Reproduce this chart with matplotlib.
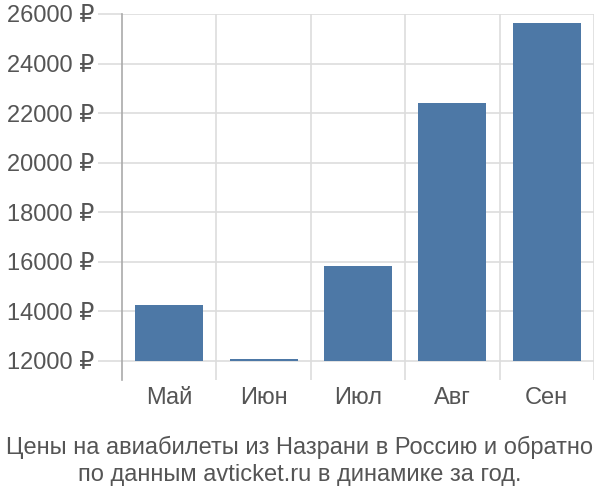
import matplotlib
matplotlib.use("Agg")
import matplotlib.pyplot as plt

months = ["Май", "Июн", "Июл", "Авг", "Сен"]
prices = [14250, 12080, 15830, 22400, 25630]
yticks = [12000, 14000, 16000, 18000, 20000, 22000, 24000, 26000]
BASE = 12000
BAR, GRID, TXT = "#4d78a6", "#dddddd", "#555555"

plt.rcParams["font.family"] = ["Liberation Sans", "DejaVu Sans"]

fig = plt.figure(figsize=(6, 5), dpi=100)
ax = fig.add_axes([0.2033, 0.24, 0.7867, 0.732])

x = list(range(len(months)))
ax.bar(x, [p - BASE for p in prices], bottom=BASE, width=0.72, color=BAR, zorder=3)

ax.set_xlim(-0.5, len(months) - 0.5)
ax.set_ylim(11230, 26000)
ax.set_yticks(yticks)
ax.set_yticklabels([f"{v} ₽" for v in yticks])
ax.set_xticks(x)
ax.set_xticklabels(months)
ax.set_xticks([i + 0.5 for i in x], minor=True)

ax.grid(axis="y", color=GRID, lw=1.2, zorder=0)
ax.grid(axis="x", which="minor", color=GRID, lw=1.2, zorder=0)
ax.tick_params(axis="y", length=17, color=GRID, width=1.2, labelsize=17, labelcolor=TXT, pad=3)
ax.tick_params(axis="x", which="major", length=0, labelsize=17, labelcolor=TXT, pad=5)
ax.tick_params(axis="x", which="minor", length=0)
for s in ["top", "right", "bottom"]:
    ax.spines[s].set_visible(False)
ax.spines["left"].set_color("#aaaaaa")
ax.spines["left"].set_linewidth(1.2)

fig.text(0.5, 0.078, "Цены на авиабилеты из Назрани в Россию и обратно\nпо данным avticket.ru в динамике за год.",
         ha="center", va="center", fontsize=17, color=TXT, linespacing=1.3)

fig.savefig("out.png", dpi=100)
